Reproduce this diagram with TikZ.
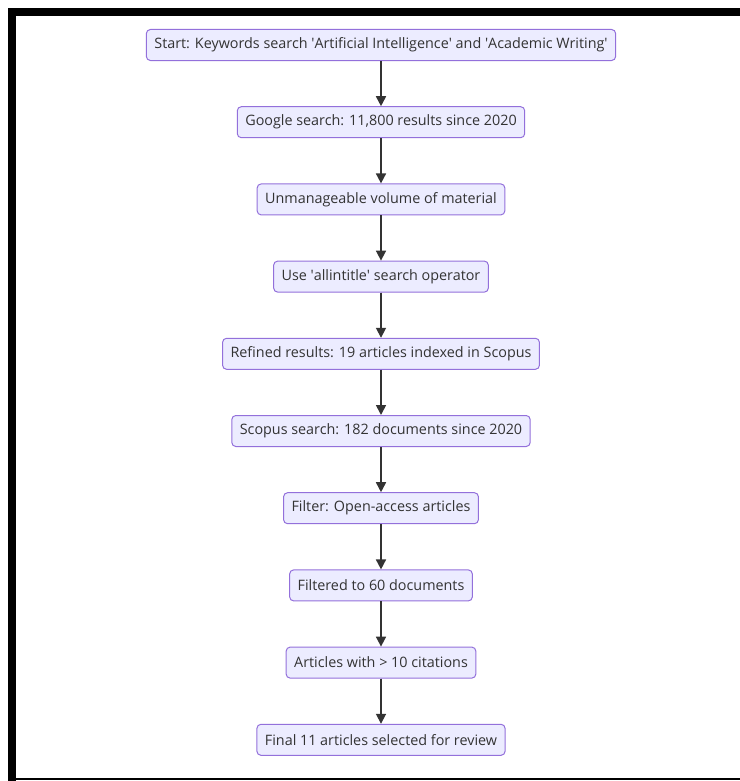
\documentclass[tikz,border=0pt]{standalone}
\usepackage{fontspec}
\setmainfont{Open Sans}
\usetikzlibrary{arrows.meta,positioning}
\definecolor{boxfill}{HTML}{ECECFF}
\definecolor{boxline}{HTML}{9370DB}
\definecolor{flowink}{HTML}{333333}
\newcommand{\sq}{\textquotesingle}
\tikzset{
  stepbox/.style={draw=boxline,fill=boxfill,line width=1bp,rounded corners=4bp,
                  minimum height=31bp,inner xsep=8bp,inner ysep=2bp,text=flowink,
                  font=\fontsize{14.4}{16}\selectfont},
  flowarr/.style={-{Triangle[length=10bp,width=10bp]},line width=1.7bp,
                  draw=flowink,fill=flowink}
}

\begin{document}
\begin{tikzpicture}[x=1bp,y=1bp,node distance=45.2bp]
    \path[use as bounding box] (0,0) rectangle (740,-781);

    % frame
    \fill[black] (8,-8) rectangle (740,-16);
    \fill[black] (8,-8) rectangle (16,-781);
    \fill[black] (8,-778) rectangle (740,-780);

    \node[stepbox] (start) at (381,-45)
      {Start: Keywords search \sq Artificial Intelligence\sq{} and \sq Academic Writing\sq};
    \node[stepbox,below=of start] (google)
      {Google search: 11,800 results since 2020};
    \node[stepbox,below=of google] (volume)
      {Unmanageable volume of material};
    \node[stepbox,below=of volume] (operator)
      {Use \sq allintitle\sq{} search operator};
    \node[stepbox,below=of operator] (refined)
      {Refined results: 19 articles indexed in Scopus};
    \node[stepbox,below=of refined] (scopus)
      {Scopus search: 182 documents since 2020};
    \node[stepbox,below=of scopus] (openacc)
      {Filter: Open-access articles};
    \node[stepbox,below=of openacc] (filtered)
      {Filtered to 60 documents};
    \node[stepbox,below=of filtered] (cited)
      {Articles with > 10 citations};
    \node[stepbox,below=of cited] (final)
      {Final 11 articles selected for review};

    \foreach \a/\b in {start/google,google/volume,volume/operator,
                       operator/refined,refined/scopus,scopus/openacc,
                       openacc/filtered,filtered/cited,cited/final}
      \draw[flowarr] (\a) -- (\b);
\end{tikzpicture}
\end{document}
